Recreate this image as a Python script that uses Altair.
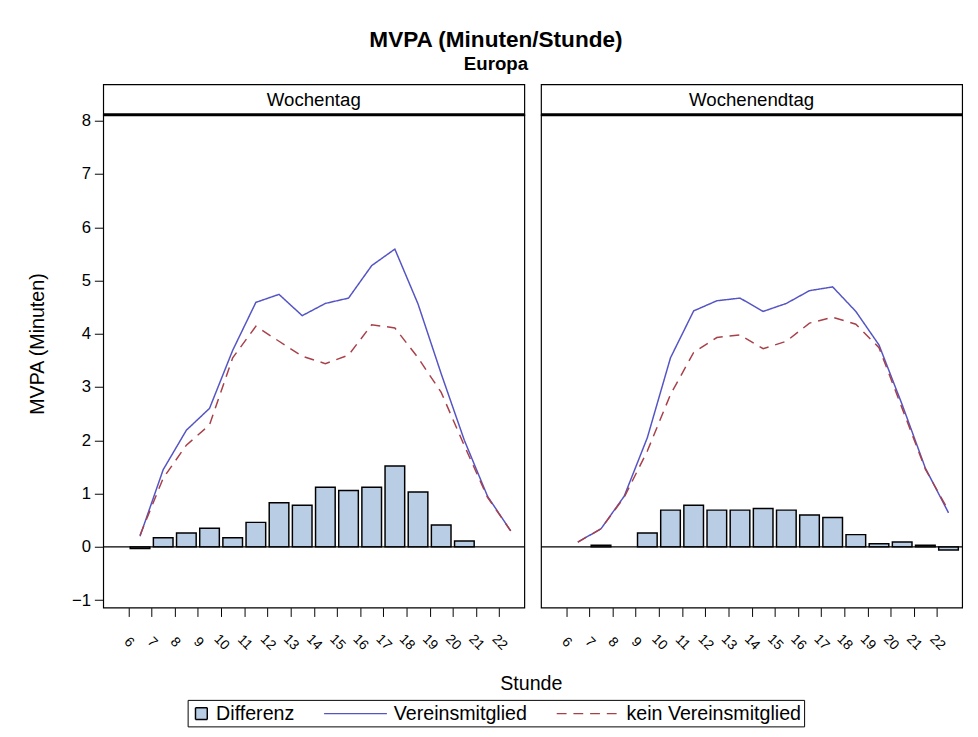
import altair as alt
import pandas as pd

hours = list(range(6, 23))
series = ["Differenz", "Vereinsmitglied", "kein Vereinsmitglied"]
panels = ["Wochentag", "Wochenendtag"]

wt_diff = [-0.03, 0.17, 0.26, 0.35, 0.17, 0.46, 0.83, 0.78, 1.12, 1.06, 1.12, 1.52, 1.03, 0.41, 0.11, 0.0, 0.0]
wt_verein = [0.20, 1.45, 2.19, 2.60, 3.69, 4.59, 4.74, 4.34, 4.57, 4.67, 5.28, 5.59, 4.56, 3.25, 2.00, 0.95, 0.30]
wt_kein = [0.22, 1.29, 1.91, 2.29, 3.55, 4.14, 3.86, 3.58, 3.44, 3.60, 4.17, 4.11, 3.55, 2.90, 1.90, 0.93, 0.30]

we_diff = [0.0, 0.03, 0.0, 0.26, 0.69, 0.78, 0.69, 0.69, 0.72, 0.69, 0.60, 0.55, 0.23, 0.06, 0.09, 0.03, -0.06]
we_verein = [0.09, 0.34, 0.95, 2.05, 3.55, 4.43, 4.62, 4.67, 4.42, 4.57, 4.81, 4.88, 4.42, 3.79, 2.67, 1.48, 0.64]
we_kein = [0.09, 0.34, 0.93, 1.80, 2.86, 3.65, 3.93, 3.98, 3.72, 3.86, 4.20, 4.31, 4.18, 3.74, 2.60, 1.46, 0.68]

y_ticks = list(range(-1, 9))

FONT = "Liberation Sans"
BAR_FILL = "#b9cde5"
BLUE = "#5454c4"
RED = "#a8404a"

rows = []
for panel, d, v, k in [("Wochentag", wt_diff, wt_verein, wt_kein),
                       ("Wochenendtag", we_diff, we_verein, we_kein)]:
    for i, h in enumerate(hours):
        rows.append({"panel": panel, "hour": h, "serie": series[0], "value": d[i]})
        rows.append({"panel": panel, "hour": h, "serie": series[1], "value": v[i]})
        rows.append({"panel": panel, "hour": h, "serie": series[2], "value": k[i]})
df = pd.DataFrame(rows)

W, H, SH = 429, 502, 31

fill_scale = alt.Scale(domain=series, range=[BAR_FILL, "transparent", "transparent"])
stroke_scale = alt.Scale(domain=series, range=["black", BLUE, RED])
dash_scale = alt.Scale(domain=series, range=[[1, 0], [1, 0], [10, 7]])
x_scale = alt.Scale(domain=[5.123, 22.877], nice=False, zero=False)
y_scale = alt.Scale(domain=[-1.14, 8.11], nice=False, zero=False)

IS_DIFF = "datum.value === 'Differenz'"
legend = alt.Legend(
    title=None, orient="none", direction="horizontal", columns=3,
    legendX=86, legendY=627,
    strokeColor="black", padding=3, labelFont=FONT, labelFontSize=20,
    labelColor="black", columnPadding=27, labelLimit=400,
    symbolType={"expr": IS_DIFF + " ? 'square' : 'M-3.2,0H3.2'"},
    symbolSize={"expr": IS_DIFF + " ? 144 : 400"},
    symbolOffset={"expr": IS_DIFF + " ? 0 : 22"},
    labelOffset={"expr": IS_DIFF + " ? 4 : 28"},
    symbolStrokeWidth=1.5,
)

x_axis = alt.Axis(values=hours, labelAngle=45, labelAlign="center", labelBaseline="middle",
                  tickSize=9, labelPadding=26, grid=False, labelFont=FONT, labelFontSize=14,
                  labelColor="black", tickColor="black", domain=False,
                  labelOverlap=False, labelFlush=False, title=None)
y_axis_left = alt.Axis(values=y_ticks, tickSize=9, labelPadding=4, grid=False,
                       labelFont=FONT, labelFontSize=17, labelColor="black",
                       tickColor="black", domain=False, title="MVPA (Minuten)",
                       titleFont=FONT, titleFontSize=20, titleFontWeight="normal",
                       titleColor="black", titlePadding=24, titleY=233)


def panel_chart(name, first):
    y_axis = y_axis_left if first else None
    base = alt.Chart(df).transform_filter(alt.datum.panel == name).transform_calculate(
        mid="datum.hour + 0.5")
    bars = base.transform_filter(
        (alt.datum.serie == series[0]) & (alt.datum.value != 0)).mark_bar(
        size=20, strokeWidth=1.5, clip=True).encode(
        x=alt.X("mid:Q", scale=x_scale, axis=x_axis),
        y=alt.Y("value:Q", scale=y_scale, axis=y_axis),
        fill=alt.Fill("serie:N", scale=fill_scale, legend=legend),
        stroke=alt.Stroke("serie:N", scale=stroke_scale, legend=legend),
    )
    zero = alt.Chart(pd.DataFrame({"z": [0]})).mark_rule(color="black", strokeWidth=1.2).encode(
        y=alt.Y("z:Q", scale=y_scale, axis=y_axis))
    lines = base.transform_filter(alt.datum.serie != series[0]).mark_line(
        strokeWidth=1.5, clip=True).encode(
        x=alt.X("mid:Q", scale=x_scale, axis=x_axis),
        y=alt.Y("value:Q", scale=y_scale, axis=y_axis),
        stroke=alt.Stroke("serie:N", scale=stroke_scale, legend=legend),
        strokeDash=alt.StrokeDash("serie:N", scale=dash_scale, legend=legend),
        detail="serie:N",
    )
    main = alt.layer(bars, zero, lines).properties(width=W, height=H)
    strip_txt = alt.Chart(pd.DataFrame({"panel": [name]})).mark_text(
        font=FONT, fontSize=19, color="black").encode(text="panel:N")
    strip_rule = alt.Chart(pd.DataFrame({"panel": [name]})).mark_rule(
        color="black", strokeWidth=3).encode(y=alt.value(SH))
    strip = alt.layer(strip_txt, strip_rule).properties(width=W, height=SH)
    return alt.vconcat(strip, main, spacing=0, bounds="flush")


inner = alt.hconcat(panel_chart("Wochentag", True), panel_chart("Wochenendtag", False),
                    spacing=11).properties(
    title=alt.TitleParams("Stunde", orient="bottom", anchor="middle", frame="bounds",
                          font=FONT, fontSize=20, fontWeight="normal", color="black",
                          offset=22, dx=36)
)

chart = alt.vconcat(inner).resolve_scale(
    fill="shared", stroke="shared", strokeDash="shared"
).properties(
    title=alt.TitleParams("MVPA (Minuten/Stunde)", subtitle="Europa", anchor="middle",
                          font=FONT, fontSize=23, fontWeight="bold", color="black",
                          subtitleFont=FONT, subtitleFontSize=19, subtitleFontWeight="bold",
                          subtitleColor="black", subtitlePadding=3, offset=10),
    padding={"left": 20, "top": 15, "right": 5, "bottom": 5},
).configure_view(stroke="black", strokeWidth=1.2)

chart.save("out.html", embed_options={"renderer": "svg", "actions": False})
